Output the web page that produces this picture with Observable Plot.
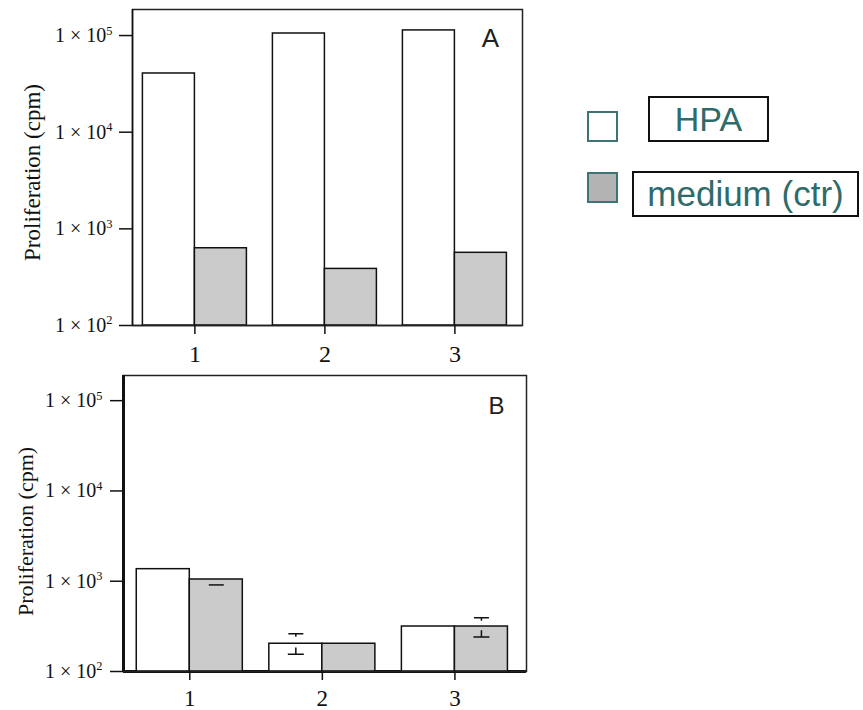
<!DOCTYPE html>
<html>
<head>
<meta charset="utf-8">
<script src="https://cdn.jsdelivr.net/npm/d3@7"></script>
<script src="https://cdn.jsdelivr.net/npm/@observablehq/plot@0.6"></script>
<style>
  html, body { margin: 0; padding: 0; background: #fff; }
  #root { position: relative; width: 863px; height: 710px; overflow: hidden; }
  #panelA { position: absolute; left: 0; top: 0; }
  #panelB { position: absolute; left: 0; top: 370px; }
  .swatch { position: absolute; width: 27px; height: 27px; border: 2px solid #3f7474; }
  .lbox { position: absolute; box-sizing: border-box; border: 2px solid #111;
          font-family: "Liberation Sans", Arial, sans-serif; color: #2f6b6b;
          display: flex; align-items: center; justify-content: center; white-space: nowrap; }
</style>
</head>
<body>
<div id="root">
  <div id="panelA"></div>
  <div id="panelB"></div>
  <div id="legend"></div>
</div>
<script>
// Proliferation (cpm) for three samples, HPA-stimulated vs. medium control
const groups = [1, 2, 3];
const seriesNames = ["HPA", "medium (ctr)"];

// Panel A
const hpaA = [40500, 105000, 113000];
const mediumA = [630, 385, 565];

// Panel B
const hpaB = [1360, 203, 315];
const mediumB = [1045, 203, 315];

// Panel B error caps (series they sit on, lower and upper value)
const errSeriesB = ["medium (ctr)", "HPA", "medium (ctr)"];
const errLowB = [910, 155, 241];
const errHighB = [null, 262, 394];

// Axis ticks
const yTicks = [1e2, 1e3, 1e4, 1e5];
const yTickExponents = ["2", "3", "4", "5"];
const xTicks = [1, 2, 3];
const panelLetters = ["A", "B"];
const yLabel = "Proliferation (cpm)";

const seriesFill = {"HPA": "#ffffff", "medium (ctr)": "#cbcbcb"};
const legendFill = ["#ffffff", "#b3b3b3"];

const SERIF = '"Liberation Serif", "Times New Roman", "DejaVu Serif", serif';
const SANS = '"Liberation Sans", Arial, sans-serif';
const BAR = 0.4; // bar width in category units

function rows(hpa, medium) {
  return groups.flatMap((g, i) => [
    {group: g, series: seriesNames[0], value: hpa[i]},
    {group: g, series: seriesNames[1], value: medium[i]}
  ]);
}
const isHPA = d => d.series === seriesNames[0];
const barX1 = d => d.group + (isHPA(d) ? -BAR : 0);
const barX2 = d => d.group + (isHPA(d) ? 0 : BAR);
const barCenter = d => d.group + (isHPA(d) ? -BAR / 2 : BAR / 2);

// error-bar cap glyphs
const capDown = {draw(ctx, size) { const r = Math.sqrt(size / Math.PI);
  ctx.moveTo(-r, 0); ctx.lineTo(r, 0); ctx.moveTo(0, 0); ctx.lineTo(0, r * 0.4); }};
const capUp = {draw(ctx, size) { const r = Math.sqrt(size / Math.PI);
  ctx.moveTo(-r, 0); ctx.lineTo(r, 0); ctx.moveTo(0, 0); ctx.lineTo(0, -r * 0.85); }};
const dash = {draw(ctx, size) { const r = Math.sqrt(size / Math.PI);
  ctx.moveTo(-r, 0); ctx.lineTo(r, 0); }};

function superscriptTicks(svg) {
  d3.select(svg).selectAll('g[aria-label="y-axis tick label"] text').each(function () {
    const [base, exp] = this.textContent.split("^");
    this.textContent = base;
    d3.select(this).append("tspan").attr("font-size", "0.62em").attr("dy", "-0.6em").text(exp);
  });
}

function panel(cfg) {
  const data = rows(cfg.hpa, cfg.medium);
  const marks = [
    Plot.ruleY([cfg.yDomain[0]], {stroke: "#111", strokeWidth: cfg.baseWidth}),
    Plot.rect(data, {x1: barX1, x2: barX2, y1: () => cfg.yDomain[0], y2: "value",
      fill: d => seriesFill[d.series], stroke: "#111", strokeWidth: 1.5}),
    Plot.frame({stroke: "#222", strokeWidth: 1.5}),
    Plot.ruleX([cfg.xDomain[0]], {stroke: "#111", strokeWidth: cfg.leftWidth}),
    Plot.axisY(yTicks, {tickSize: 13, tickPadding: cfg.yPad, fontSize: 20, strokeWidth: 1.5,
      stroke: "#111", fill: "#111", label: null,
      tickFormat: d => "1 × 10^" + yTickExponents[yTicks.indexOf(d)]}),
    Plot.axisX(xTicks, {tickSize: 9, tickPadding: cfg.xPad, fontSize: cfg.xSize, strokeWidth: 1.5,
      stroke: "#111", fill: "#111", label: null, tickFormat: d => String(d)}),
    Plot.text([yLabel], {frameAnchor: "left", textAnchor: "middle", lineAnchor: "middle",
      dx: cfg.labelDx, dy: cfg.labelDy, rotate: -90, fontSize: cfg.labelSize, fill: "#111"}),
    Plot.text([cfg.letter], {frameAnchor: "top-right", textAnchor: "middle", lineAnchor: "middle",
      dx: cfg.letterDx, dy: cfg.letterDy, fontSize: cfg.letterSize, fontFamily: SANS, fill: "#222"})
  ];
  if (cfg.errors) {
    const err = cfg.errors;
    marks.push(
      Plot.dot(err.filter(d => d.hi != null), {x: barCenter, y: "hi", symbol: capDown, r: 7.5,
        fill: "none", stroke: "#111", strokeWidth: 1.5}),
      Plot.dot(err.filter(d => d.hi != null), {x: barCenter, y: "lo", symbol: capUp, r: 8,
        fill: "none", stroke: "#111", strokeWidth: 1.5}),
      Plot.dot(err.filter(d => d.hi == null), {x: barCenter, y: "lo", symbol: dash, r: 7.5,
        fill: "none", stroke: "#111", strokeWidth: 1.5})
    );
  }
  const svg = Plot.plot({
    width: cfg.width, height: cfg.height,
    marginLeft: cfg.ml, marginRight: cfg.mr, marginTop: cfg.mt, marginBottom: cfg.mb,
    style: {fontFamily: SERIF, background: "transparent", overflow: "visible"},
    x: {type: "linear", domain: cfg.xDomain},
    y: {type: "log", domain: cfg.yDomain},
    marks
  });
  superscriptTicks(svg);
  return svg;
}

document.getElementById("panelA").append(panel({
  hpa: hpaA, medium: mediumA, letter: panelLetters[0],
  width: 540, height: 370, ml: 132, mr: 18, mt: 9, mb: 45,
  xDomain: [0.52, 3.52], yDomain: [100, 186000],
  yPad: 7, xPad: 10, xSize: 24, baseWidth: 1.5, leftWidth: 1.5,
  labelDx: -100, labelDy: 5, labelSize: 23,
  letterDx: -32, letterDy: 29, letterSize: 26
}));

const errorsB = errSeriesB.map((s, i) => ({group: groups[i], series: s, lo: errLowB[i], hi: errHighB[i]}));

document.getElementById("panelB").append(panel({
  hpa: hpaB, medium: mediumB, letter: panelLetters[1], errors: errorsB,
  width: 545, height: 340, ml: 123, mr: 19, mt: 5, mb: 39,
  xDomain: [0.5, 3.54], yDomain: [100, 190000],
  yPad: 8, xPad: 9, xSize: 23, baseWidth: 3, leftWidth: 3,
  labelDx: -98, labelDy: 8, labelSize: 22,
  letterDx: -30, letterDy: 31, letterSize: 24
}));

// Legend
const legend = document.getElementById("legend");
const swatchPos = [{left: 587, top: 111}, {left: 587, top: 172}];
const boxPos = [
  {left: 648, top: 96, width: 121, height: 46, size: 34},
  {left: 632, top: 171, width: 227, height: 46, size: 35}
];
seriesNames.forEach((name, i) => {
  const sw = document.createElement("div");
  sw.className = "swatch";
  sw.style.left = swatchPos[i].left + "px";
  sw.style.top = swatchPos[i].top + "px";
  sw.style.background = legendFill[i];
  legend.append(sw);
  const b = document.createElement("div");
  b.className = "lbox";
  const p = boxPos[i];
  Object.assign(b.style, {left: p.left + "px", top: p.top + "px", width: p.width + "px",
    height: p.height + "px", fontSize: p.size + "px"});
  b.textContent = name;
  legend.append(b);
});
</script>
</body>
</html>
